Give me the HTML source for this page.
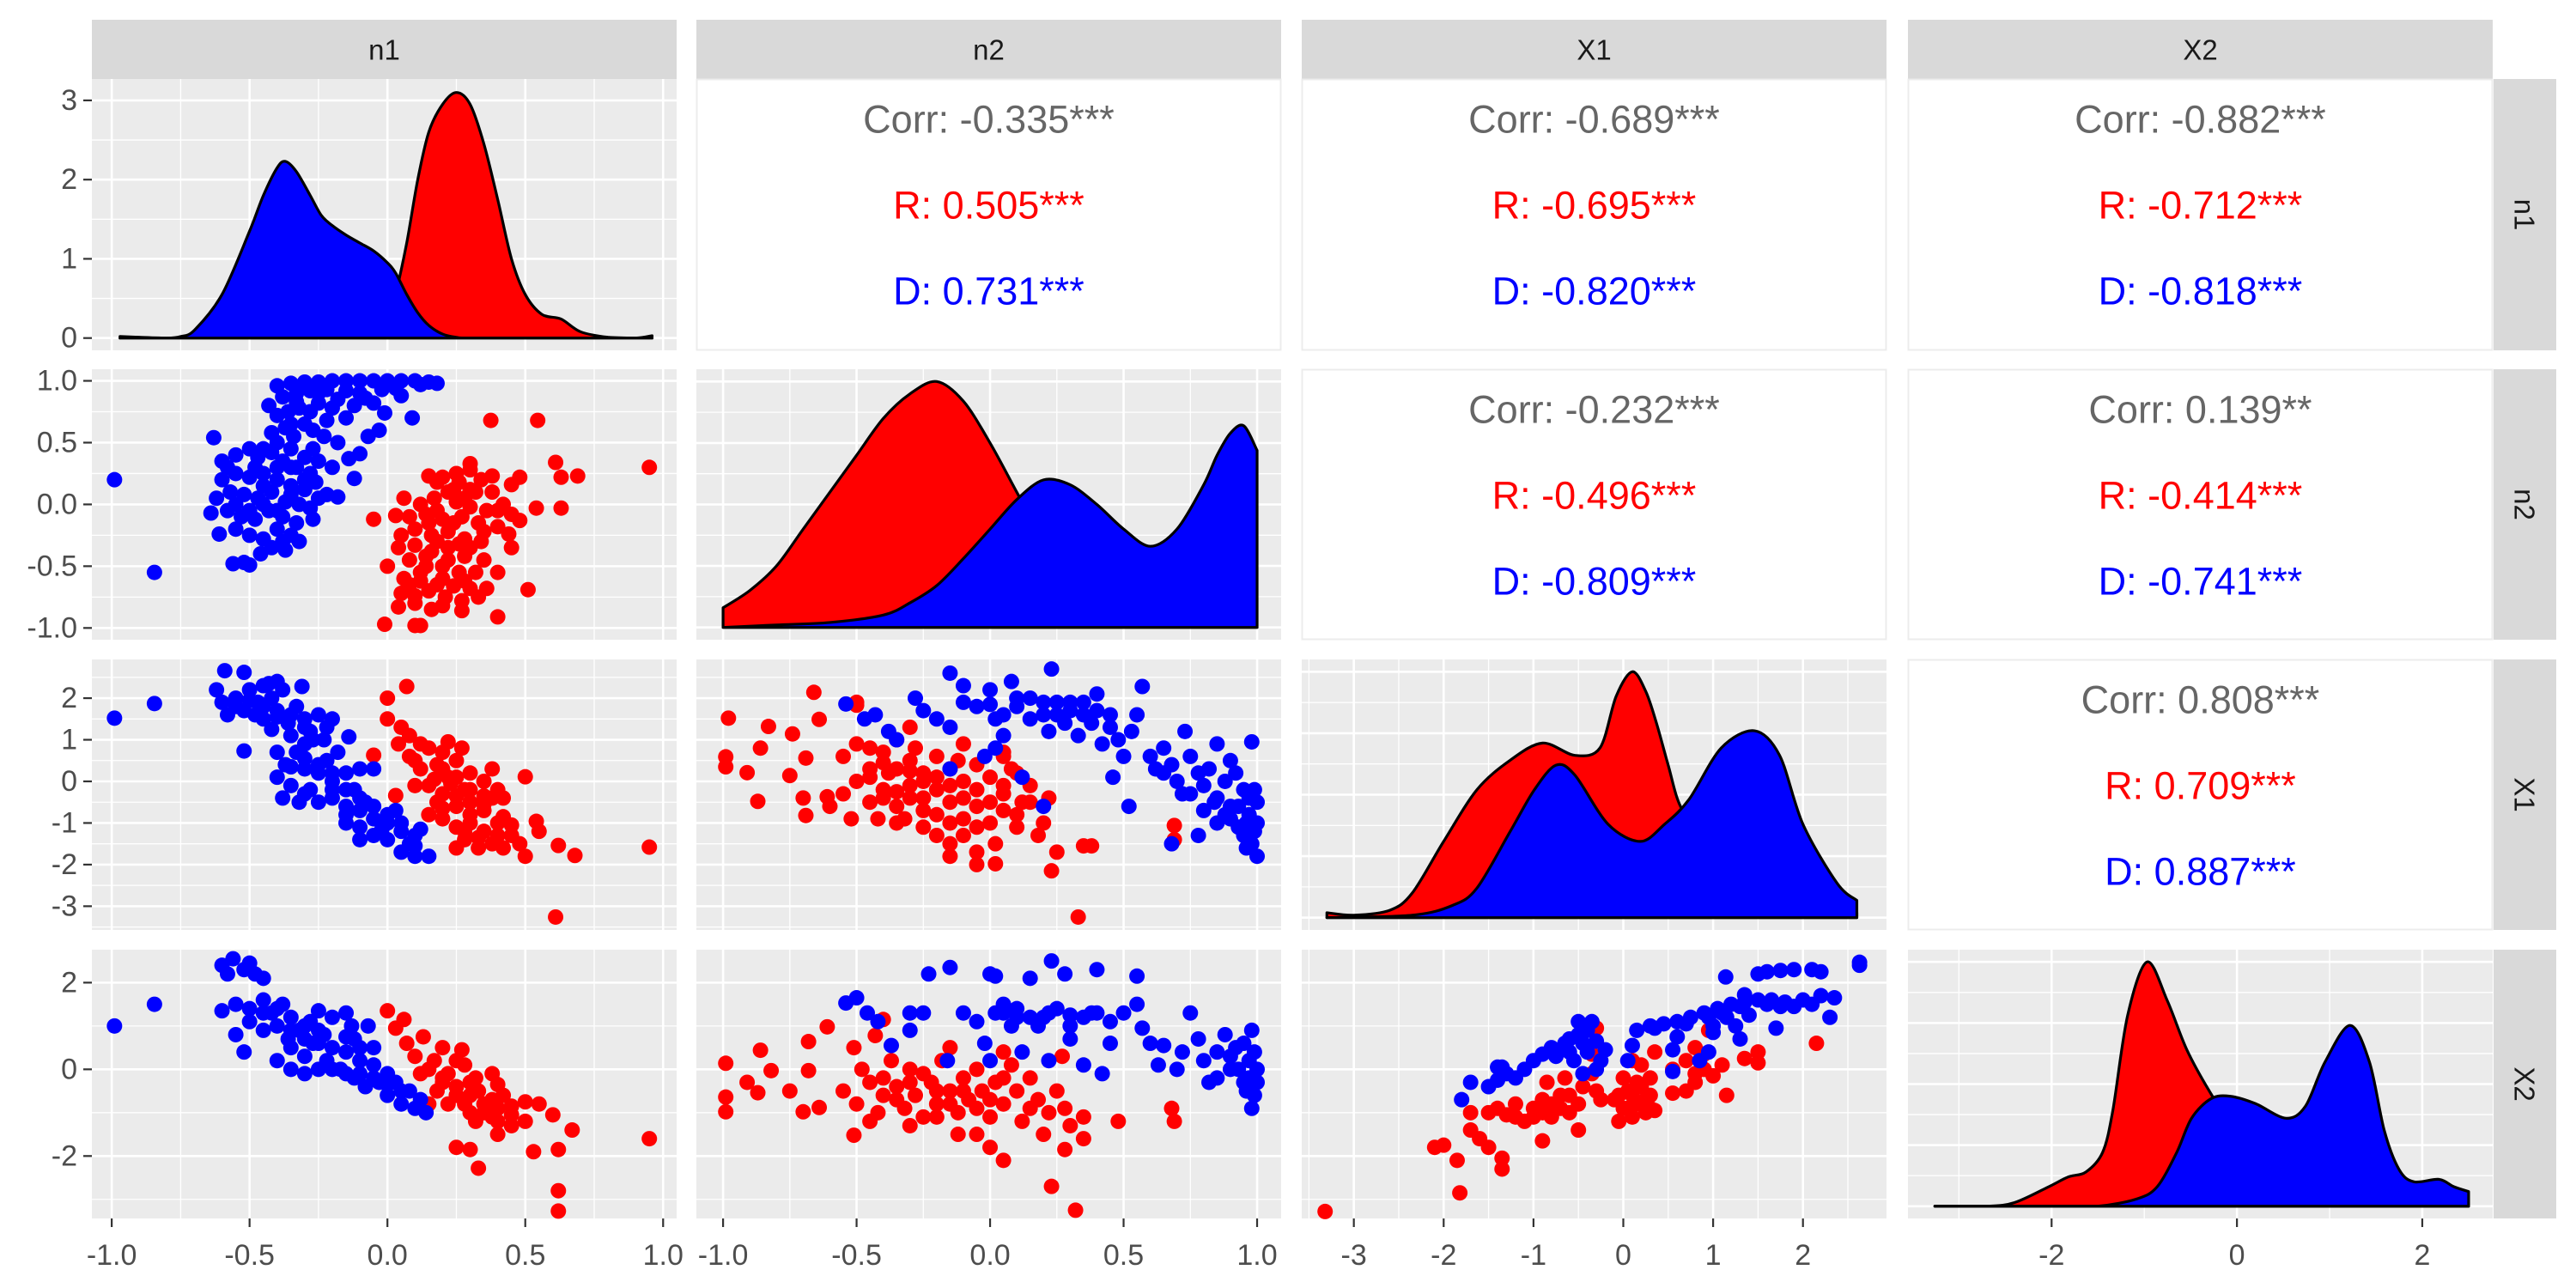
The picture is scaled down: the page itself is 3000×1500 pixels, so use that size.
<!DOCTYPE html>
<html><head><meta charset="utf-8">
<style>
html,body{margin:0;padding:0;background:#fff;}
svg{display:block;font-family:"Liberation Sans",Arial,sans-serif;}
</style></head>
<body>
<svg id="chart" width="3000" height="1500" viewBox="0 0 3000 1500" xmlns="http://www.w3.org/2000/svg"></svg>
<script>
// ---------- DATA ----------
const varNames = ["n1","n2","X1","X2"];
const colTickVals = [[-1,-0.5,0,0.5,1],[-1,-0.5,0,0.5,1],[-3,-2,-1,0,1,2],[-2,0,2]];
const colTickLabels = [["-1.0","-0.5","0.0","0.5","1.0"],["-1.0","-0.5","0.0","0.5","1.0"],["-3","-2","-1","0","1","2"],["-2","0","2"]];
const rowTickVals = [[0,1,2,3],[-1,-0.5,0,0.5,1],[-3,-2,-1,0,1,2],[-2,0,2]];
const rowTickLabels = [["0","1","2","3"],["-1.0","-0.5","0.0","0.5","1.0"],["-3","-2","-1","0","1","2"],["-2","0","2"]];

const corrLabels = {"0,1":["Corr: -0.335***","R: 0.505***","D: 0.731***"],
"0,2":["Corr: -0.689***","R: -0.695***","D: -0.820***"],
"0,3":["Corr: -0.882***","R: -0.712***","D: -0.818***"],
"1,2":["Corr: -0.232***","R: -0.496***","D: -0.809***"],
"1,3":["Corr: 0.139**","R: -0.414***","D: -0.741***"],
"2,3":["Corr: 0.808***","R: 0.709***","D: 0.887***"]};

// densities
const n1RedX = [-0.97,-0.5,-0.1,-0.05,0.0,0.03,0.07,0.11,0.15,0.2,0.25,0.3,0.35,0.4,0.45,0.5,0.56,0.63,0.7,0.8,0.9,0.96];
const n1RedY = [0,0,0,0,0.15,0.55,1.2,2.0,2.6,2.95,3.1,2.95,2.45,1.75,1.0,0.55,0.3,0.24,0.08,0.01,0.0,0.03];
const n1BlueX = [-0.97,-0.9,-0.8,-0.75,-0.7,-0.6,-0.5,-0.45,-0.4,-0.37,-0.33,-0.28,-0.24,-0.2,-0.15,-0.1,-0.05,0.0,0.03,0.07,0.11,0.15,0.2,0.25,0.3,0.6,0.96];
const n1BlueY = [0.02,0.01,0.0,0.02,0.1,0.55,1.35,1.8,2.15,2.23,2.1,1.8,1.55,1.42,1.3,1.2,1.1,0.95,0.82,0.55,0.32,0.16,0.05,0.01,0,0,0];
const n2RedX = [-1,-0.9,-0.8,-0.7,-0.6,-0.5,-0.4,-0.3,-0.2,-0.1,0,0.1,0.2,0.3,0.4,0.5,0.6,0.8,1.0];
const n2RedY = [0.08,0.15,0.25,0.4,0.55,0.7,0.85,0.95,1.0,0.92,0.75,0.55,0.35,0.19,0.09,0.03,0.01,0,0];
const n2BlueX = [-1,-0.8,-0.6,-0.4,-0.3,-0.2,-0.1,0,0.1,0.2,0.3,0.4,0.5,0.6,0.7,0.8,0.85,0.9,0.95,1.0];
const n2BlueY = [0.0,0.01,0.02,0.05,0.1,0.17,0.28,0.4,0.52,0.6,0.58,0.5,0.4,0.33,0.4,0.58,0.7,0.79,0.82,0.72];
const x1RedX = [-3.3,-3.0,-2.6,-2.35,-2.0,-1.63,-1.26,-0.9,-0.54,-0.26,-0.08,0.1,0.25,0.37,0.5,0.64,0.9,1.3,1.7,2.1,2.6];
const x1RedY = [0.02,0.01,0.03,0.1,0.31,0.52,0.64,0.71,0.66,0.69,0.9,1.0,0.92,0.79,0.62,0.45,0.33,0.22,0.12,0.05,0.02];
const x1BlueX = [-3.3,-2.35,-1.9,-1.63,-1.26,-0.99,-0.75,-0.54,-0.17,0.19,0.46,0.73,1.09,1.46,1.74,2.0,2.38,2.6];
const x1BlueY = [0.0,0.01,0.05,0.12,0.35,0.52,0.62,0.58,0.38,0.31,0.38,0.48,0.69,0.76,0.66,0.38,0.14,0.07];
const x2RedX = [-3.26,-2.7,-2.4,-2.03,-1.82,-1.63,-1.45,-1.34,-1.18,-0.97,-0.75,-0.54,-0.28,0,0.5,1,1.5,2.0,2.5];
const x2RedY = [0,0.0,0.015,0.08,0.12,0.14,0.22,0.39,0.78,1.0,0.84,0.64,0.46,0.3,0.15,0.08,0.04,0.01,0.0];
const x2BlueX = [-3.26,-2.0,-1.5,-1.08,-0.86,-0.65,-0.49,-0.28,-0.07,0.2,0.53,0.74,0.95,1.22,1.43,1.59,1.75,1.91,2.18,2.34,2.5];
const x2BlueY = [0,0,0.0,0.03,0.08,0.22,0.36,0.44,0.45,0.42,0.36,0.41,0.59,0.74,0.59,0.31,0.15,0.1,0.11,0.08,0.06];

// scatter points [x,y]
const p21BlueMain = [[-0.4,0.96],[-0.35,0.98],[-0.3,0.99],[-0.25,0.99],[-0.2,1.0],[-0.15,1.0],[-0.1,1.0],[-0.05,1.0],[0,1.0],[0.05,1.0],[0.1,1.0],[0.15,0.99],[0.18,0.98],[0.12,0.97],[-0.02,0.93],[0.03,0.94],[-0.22,0.93],[-0.28,0.92],[-0.33,0.9],[-0.38,0.87],
[-0.43,0.8],[-0.4,0.72],[-0.36,0.75],[-0.32,0.78],[-0.25,0.82],[-0.18,0.85],[-0.12,0.8],[-0.08,0.86],[-0.3,0.65],[-0.37,0.62],[-0.42,0.58],[-0.34,0.55],[-0.27,0.6],[-0.22,0.68],[-0.15,0.7],
[-0.99,0.2],[-0.845,-0.55],[-0.63,0.54],[0.09,0.7],[-0.12,0.21],[-0.56,-0.48],[-0.52,-0.47],[-0.5,-0.49],[-0.37,-0.37],[-0.61,-0.24],[-0.01,0.74],[-0.03,0.6],[-0.07,0.55],[-0.1,0.41],[-0.14,0.37],[-0.18,0.5],[-0.23,0.55],[-0.22,0.08],[-0.18,0.06],
[-0.6,0.35],[-0.55,0.4],[-0.5,0.45],[-0.47,0.38],[-0.42,0.42],[-0.38,0.35],[-0.33,0.3],[-0.28,0.25],[-0.25,0.35],[-0.6,0.2],[-0.55,0.25],[-0.5,0.22],[-0.45,0.25],[-0.4,0.2],[-0.35,0.15],[-0.3,0.12],[-0.26,0.18],[-0.62,0.05],[-0.57,0.1],[-0.52,0.08],[-0.47,0.05],[-0.42,0.1],[-0.37,0.02],[-0.32,0.0],[-0.28,-0.03],[-0.64,-0.07],[-0.58,-0.05],[-0.53,-0.1],[-0.48,-0.12],[-0.43,-0.05],[-0.38,-0.1],[-0.33,-0.15],[-0.27,-0.12],[-0.55,-0.2],[-0.5,-0.25],[-0.45,-0.28],[-0.4,-0.2],[-0.35,-0.25],[-0.42,-0.35],[-0.46,-0.4],[-0.38,-0.3],[-0.58,0.3],[-0.48,0.3]];
const p21BlueExtra = [[-0.45,0.0],[-0.4,-0.05],[-0.35,0.08],[-0.3,0.2],[-0.45,0.15],[-0.5,-0.05],[-0.55,0.0],[-0.35,0.3],[-0.3,0.38],[-0.4,0.3],[-0.25,0.05],[-0.32,-0.3],[-0.27,0.45],[-0.2,0.3],[-0.35,0.45],[-0.45,0.45],[-0.4,0.5],[-0.35,0.65],[-0.28,0.75],[-0.2,0.78],[-0.1,0.9],[-0.05,0.82],[0.05,0.88],[-0.15,0.92],[-0.33,0.83],[-0.25,0.9]];
const p21RedMain = [[0.2,0.22],[0.26,0.18],[0.3,0.12],[0.34,0.2],[0.38,0.1],[0.22,0.1],[0.17,0.05],[0.12,0.0],[0.25,0.02],[0.3,-0.02],[0.36,-0.05],[0.42,0.0],[0.45,-0.08],[0.08,-0.1],[0.14,-0.08],[0.2,-0.12],[0.27,-0.1],[0.33,-0.15],[0.4,-0.18],[0.05,-0.25],[0.1,-0.2],[0.16,-0.25],[0.22,-0.22],[0.28,-0.28],[0.34,-0.3],[0.04,-0.35],[0.1,-0.33],[0.16,-0.38],[0.22,-0.35],[0.28,-0.42],[0.35,-0.45],[0.08,-0.45],[0.14,-0.5],[0.2,-0.5],[0.26,-0.55],[0.32,-0.55],[0.06,-0.6],[0.12,-0.62],[0.18,-0.65],[0.24,-0.66],[0.3,-0.68],[0.36,-0.68],[0.05,-0.72],[0.1,-0.74],[0.15,-0.7],[0.21,-0.75],[0.27,-0.78],[0.33,-0.75],[0.25,0.25],[0.3,0.28],[0.18,0.18],
[0.375,0.68],[0.545,0.68],[0.95,0.3],[0.61,0.34],[0.63,0.22],[0.69,0.23],[0.63,-0.03],[0.3,0.33],[0.15,0.23],[-0.05,-0.12],[0.03,-0.09],[0.06,0.05],[-0.01,-0.97],[0.1,-0.98],[0.12,-0.98],[0.4,-0.91],[0.51,-0.69],[0.27,-0.86],[0.16,-0.85],[0.04,-0.83],[0.0,-0.5],[0.54,-0.03],[0.48,-0.13],[0.44,-0.24],[0.48,0.22],[0.45,0.16],[0.38,0.23],[0.45,-0.35],[0.4,-0.55]];
const p21RedExtra = [[0.18,-0.05],[0.24,-0.15],[0.3,-0.35],[0.22,-0.45],[0.15,-0.15],[0.28,0.05],[0.32,0.1],[0.18,-0.3],[0.26,-0.32],[0.12,-0.55],[0.2,-0.6],[0.28,-0.62],[0.1,-0.8],[0.2,-0.82],[0.24,0.12],[0.35,-0.22],[0.4,-0.05],[0.08,-0.65],[0.14,-0.42]];
const p31BlueMain = [[-0.62,2.2],[-0.6,1.9],[-0.58,1.6],[-0.55,2.0],[-0.52,1.7],[-0.5,2.2],[-0.47,1.9],[-0.45,1.5],[-0.42,2.0],[-0.4,1.7],[-0.38,2.2],[-0.36,1.4],[-0.33,1.8],[-0.3,1.5],[-0.28,1.2],[-0.25,1.6],[-0.23,1.0],[-0.22,1.3],[-0.2,1.5],[-0.3,0.9],[-0.35,1.1],[-0.4,0.7],[-0.37,0.4],[-0.4,0.1],[-0.35,-0.1],[-0.38,-0.4],[-0.32,-0.5],[-0.28,-0.2],[-0.25,0.2],[-0.22,0.5],[-0.2,0.0],[-0.25,-0.5],[-0.2,-0.4],[-0.15,-0.6],[-0.1,-0.7],[-0.15,-1.0],[-0.1,-1.1],[-0.05,-0.9],[0.0,-1.0],[0.03,-0.7],[-0.05,-1.3],[0.0,-1.4],[0.05,-1.2],[0.08,-1.5],[0.1,-1.8],[0.15,-1.8],[0.05,-1.7],[-0.08,-0.5],[-0.12,-0.2],[-0.15,0.2],[-0.1,0.3],[-0.05,0.3],[-0.18,0.7],[-0.1,-1.4],[-0.3,0.3],[-0.45,2.3],
[-0.99,1.52],[-0.845,1.87],[-0.59,2.66],[-0.52,2.62],[-0.31,2.28],[-0.52,0.73],[-0.14,1.07],[-0.43,2.35],[-0.4,2.4]];
const p31BlueExtra = [[-0.5,1.95],[-0.45,1.8],[-0.4,1.55],[-0.35,1.6],[-0.3,1.3],[-0.27,1.0],[-0.33,0.7],[-0.3,0.55],[-0.25,0.4],[-0.2,0.2],[-0.15,-0.2],[-0.1,-0.4],[-0.05,-0.6],[0.0,-0.8],[0.05,-1.0],[0.1,-1.3],[0.1,-1.55],[-0.02,-1.15],[-0.55,1.8],[-0.48,1.6],[-0.42,1.25],[-0.2,-0.2],[-0.3,-0.3],[-0.35,0.35],[-0.15,-0.8],[0.12,-1.15]];
const p31RedMain = [[0.0,2.0],[0.07,2.28],[0.0,1.5],[0.05,1.3],[0.04,0.9],[0.08,0.6],[-0.05,0.63],[0.03,-0.34],[0.12,0.9],[0.15,0.8],[0.2,0.7],[0.18,0.4],[0.12,0.3],[0.25,0.5],[0.27,0.8],[0.3,0.2],[0.22,0.1],[0.15,-0.1],[0.28,-0.2],[0.35,0.0],[0.4,-0.2],[0.42,-0.4],[0.2,-0.3],[0.25,-0.6],[0.3,-0.5],[0.35,-0.7],[0.15,-0.8],[0.2,-0.9],[0.25,-1.1],[0.3,-1.0],[0.35,-1.2],[0.4,-1.0],[0.45,-1.3],[0.28,-1.4],[0.33,-1.6],[0.38,-1.5],[0.42,-1.6],[0.48,-1.5],[0.5,-1.8],[0.5,0.11],[0.95,-1.58],[0.61,-3.26],[0.68,-1.78],[0.62,-1.54],[0.54,-0.96],[0.55,-1.2],[0.25,-1.6],[0.18,-0.5],[0.1,-0.1],[0.35,-0.35],[0.38,0.3],[0.22,0.95],[0.08,1.1]];
const p31RedExtra = [[0.2,0.3],[0.25,0.1],[0.3,-0.2],[0.25,-0.35],[0.3,-0.8],[0.35,-0.55],[0.28,-1.2],[0.33,-1.35],[0.4,-1.3],[0.2,-0.65],[0.17,0.05],[0.1,0.5],[0.42,-0.85],[0.45,-1.05],[0.38,-0.4],[0.23,-0.05]];
const p32RedMain = [[-0.98,1.52],[-0.99,0.59],[-0.99,0.35],[-0.91,0.21],[-0.87,-0.48],[-0.83,1.32],[-0.86,0.8],[-0.74,1.14],[-0.66,2.14],[-0.64,1.49],[-0.5,1.83],[-0.7,-0.4],[-0.69,-0.82],[-0.61,-0.37],[-0.75,0.14],[-0.69,0.56],
[-0.55,0.6],[-0.5,0.9],[-0.45,0.3],[-0.4,0.7],[-0.35,1.0],[-0.3,0.5],[-0.25,0.2],[-0.2,0.6],[-0.15,0.3],[-0.1,0.0],[-0.05,0.4],[0,0.1],[0.05,-0.1],[0.1,0.2],[0.15,-0.1],[-0.55,-0.3],[-0.5,0.0],[-0.45,-0.5],[-0.4,-0.2],[-0.35,-0.6],[-0.3,-0.1],[-0.25,-0.4],[-0.2,-0.8],[-0.15,-0.5],[-0.1,-0.9],[-0.05,-0.6],[0,-1.0],[0.05,-0.7],[0.1,-1.1],[0.15,-0.5],[-0.25,-1.1],[-0.2,-1.3],[-0.15,-1.5],[-0.1,-1.3],[-0.05,-1.7],[0.02,-1.5],[0.18,-1.3],[0.2,-1.0],[0.22,-0.4],[-0.45,0.8],[-0.38,0.2],[-0.6,-0.6],[-0.52,-0.9],[-0.42,-0.9],[-0.32,-0.9],[-0.35,-0.25],[-0.12,0.5],[0.08,0.3],[-0.28,0.8],[0.05,0.6],[-0.1,0.9],
[0.33,-3.26],[0.69,-1.06],[0.69,-1.4],[0.35,-1.55],[0.38,-1.55],[0.25,-1.7],[0.23,-2.15],[0.02,-1.98],[-0.15,-1.8],[-0.05,-2.0],[-0.5,1.9],[-0.3,1.3],[0.05,0.7]];
const p32RedExtra = [[-0.45,0.1],[-0.4,-0.4],[-0.35,0.3],[-0.3,-0.4],[-0.25,0.0],[-0.2,-0.2],[-0.15,-0.1],[-0.1,-0.4],[-0.05,-0.2],[0.0,-0.5],[0.05,-0.3],[0.1,-0.8],[-0.2,0.1],[-0.3,0.25],[-0.4,0.45],[-0.35,-1.0],[-0.25,-0.7],[-0.15,-1.0],[-0.05,-1.1],[0.12,-0.5]];
const p32BlueMain = [[-0.54,1.86],[-0.47,1.5],[-0.43,1.6],[-0.35,1.0],[-0.38,1.2],[-0.28,2.0],[-0.25,1.7],[-0.2,1.5],[-0.15,2.6],[-0.1,2.3],[-0.15,1.3],[-0.05,1.8],[0.0,2.2],[0.02,1.5],[0.08,2.4],[0.05,1.1],[0.1,1.8],[0.15,2.0],[0.2,1.6],[0.22,1.2],[0.25,1.9],[0.23,2.7],[0.28,1.4],[0.3,1.7],[0.33,1.1],[0.35,1.9],[0.38,1.4],[0.4,2.1],[0.42,0.9],[0.45,1.3],[0.48,1.0],[0.5,0.6],[0.46,0.1],[0.52,-0.6],[0.53,1.2],[0.57,2.28],[0.55,1.6],[0.6,0.6],[0.62,0.3],[0.65,0.8],[0.68,0.4],[0.73,1.2],[0.75,0.6],[0.78,0.2],[0.7,0.0],[0.72,-0.3],[0.8,-0.1],[0.82,0.3],[0.85,-0.4],[0.88,0.0],[0.9,-0.6],[0.92,0.2],[0.95,-0.2],[0.97,-0.8],[0.99,-1.2],[1.0,-0.5],[0.98,-1.5],[1.0,-1.8],[0.96,-1.0],[0.93,-1.1],[0.88,-0.8],[0.84,-0.5],[0.8,-0.7],[0.78,-1.3],[0.68,-1.5],[0.98,0.95],[0.85,0.9],[0.9,0.5],[0.02,0.8],[0.12,0.1],[-0.15,0.3],[-0.02,0.6],[0.2,-0.6]];
const p32BlueExtra = [[0.05,1.6],[0.15,1.5],[0.25,1.6],[0.35,1.6],[0.4,1.7],[0.3,1.9],[0.2,1.9],[0.1,2.0],[0.0,1.85],[-0.1,1.9],[0.45,1.6],[0.93,-0.6],[0.95,-1.3],[0.97,-0.4],[1.0,-1.0],[0.9,-0.9],[0.85,-1.0],[0.96,-1.6],[0.99,-0.2],[0.75,-0.3],[0.65,0.2]];
const p41BlueMain = [[-0.6,2.4],[-0.58,2.2],[-0.56,2.55],[-0.52,2.3],[-0.48,2.2],[-0.45,2.1],[-0.5,2.45],
[-0.6,1.35],[-0.55,1.5],[-0.5,1.4],[-0.5,1.1],[-0.45,1.6],[-0.42,1.3],[-0.4,1.0],[-0.38,1.5],[-0.36,0.7],[-0.35,1.2],[-0.32,0.9],[-0.3,0.3],[-0.28,1.1],[-0.27,0.6],[-0.25,1.35],[-0.23,0.8],[-0.22,0.2],[-0.2,0.5],[-0.2,1.2],[-0.17,0.0],[-0.15,0.4],[-0.12,-0.2],[-0.12,0.7],[-0.1,0.2],[-0.08,-0.4],[-0.05,0.1],[-0.05,0.5],[-0.03,-0.3],[0,-0.1],[0.0,-0.6],[0.03,-0.3],[0.05,-0.8],[0.08,-0.5],[0.12,-0.7],[0.14,-1.0],[-0.25,0.0],[-0.35,0.0],[-0.4,0.2],[-0.3,-0.1],
[-0.99,1.0],[-0.845,1.5],[-0.55,0.8],[-0.52,0.4],[-0.15,1.3],[-0.13,1.0],[-0.07,1.0],[-0.15,0.75]];
const p41BlueExtra = [[-0.35,0.5],[-0.3,0.7],[-0.25,0.6],[-0.2,0.0],[-0.15,-0.1],[-0.1,-0.1],[-0.05,-0.2],[0.0,-0.35],[0.05,-0.5],[-0.1,0.5],[-0.45,1.3],[-0.4,1.4],[-0.35,0.9],[-0.3,1.0],[-0.25,0.9],[-0.45,0.9],[0.1,-0.9]];
const p41RedMain = [[0.0,1.35],[0.06,1.15],[0.03,0.95],[0.07,0.6],[0.1,0.3],[0.13,0.75],[0.2,0.5],[0.27,0.45],[0.17,0.2],[0.12,-0.1],[0.22,-0.1],[0.28,0.1],[0.32,-0.2],[0.38,-0.1],[0.4,-0.35],[0.25,-0.4],[0.18,-0.5],[0.15,-0.8],[0.22,-0.8],[0.3,-0.6],[0.35,-0.8],[0.42,-0.6],[0.45,-0.85],[0.3,-1.0],[0.38,-1.1],[0.45,-1.3],[0.5,-1.2],[0.55,-0.8],[0.6,-1.05],[0.67,-1.4],[0.62,-1.85],[0.53,-1.9],[0.25,-1.8],[0.3,-1.85],[0.33,-2.28],[0.62,-2.8],[0.62,-3.27],[0.95,-1.6],[0.5,-0.75],[0.4,-1.5]];
const p41RedExtra = [[0.2,-0.2],[0.25,-0.6],[0.3,-0.3],[0.33,-0.5],[0.38,-0.7],[0.35,-1.0],[0.4,-0.9],[0.28,-0.8],[0.2,-0.3],[0.15,0.0],[0.25,0.2],[0.45,-1.05],[0.4,-1.2],[0.32,-1.2]];
const p42RedMain = [[-0.99,0.14],[-0.99,-0.64],[-0.99,-0.98],[-0.91,-0.3],[-0.87,-0.54],[-0.86,0.44],[-0.82,-0.03],[-0.75,-0.5],[-0.7,-0.98],[-0.68,0.64],[-0.68,-0.03],[-0.64,-0.88],[-0.61,0.98],[-0.51,0.5],[-0.51,-1.52],[-0.43,0.78],[-0.4,1.15],
[-0.55,-0.5],[-0.5,-0.8],[-0.48,0.0],[-0.45,-0.3],[-0.42,-1.0],[-0.4,-0.6],[-0.37,0.2],[-0.35,-0.4],[-0.32,-0.9],[-0.3,0.0],[-0.28,-0.6],[-0.25,-1.1],[-0.22,-0.3],[-0.2,-0.8],[-0.18,0.2],[-0.15,-0.5],[-0.12,-1.0],[-0.1,-0.2],[-0.08,-0.7],[-0.05,0.0],[-0.03,-0.5],[0,-1.1],[0.02,-0.3],[0.05,-0.8],[0.08,0.1],[0.1,-0.5],[0.12,-1.2],[0.15,-0.2],[0.18,-0.7],[0.22,-1.0],[0.25,-0.5],[0.28,-0.9],[0.2,-1.5],[0.3,-1.3],[0.35,-1.6],[0.28,-1.85],[0.05,-2.1],[0.23,-2.7],[0.32,-3.25],[-0.05,-1.5],[0.0,-1.8],[-0.12,-1.5],[0.27,0.3],[0.35,-1.1],[0.48,-1.2],[0.68,-0.9],[0.69,-1.2],[-0.15,0.5],[0.05,0.4],[-0.45,-1.2],[-0.3,-1.3]];
const p42RedExtra = [[-0.4,-0.2],[-0.3,-0.3],[-0.2,-0.5],[-0.1,-0.5],[0,-0.7],[-0.25,-0.1],[-0.15,-0.8],[-0.05,-0.9],[0.05,-0.2],[0.15,-0.9],[-0.35,-0.7],[-0.2,-1.1]];
const p42BlueMain = [[-0.54,1.53],[-0.5,1.65],[-0.46,1.3],[-0.42,1.1],[-0.3,1.3],[-0.25,1.3],[-0.3,0.9],[-0.23,2.2],[-0.15,2.35],[-0.16,0.2],[-0.37,0.55],[-0.1,1.3],[-0.05,1.1],[-0.02,0.6],[0.0,2.2],[0.02,2.15],[0.02,1.3],[0.05,1.5],[0.08,1.0],[0.1,1.4],[0.12,0.4],[0.15,1.2],[0.15,2.1],[0.18,1.0],[0.22,1.3],[0.22,0.2],[0.25,1.4],[0.23,2.5],[0.28,2.2],[0.3,1.0],[0.3,0.7],[0.35,0.1],[0.38,1.3],[0.4,2.3],[0.45,1.1],[0.5,1.3],[0.45,0.6],[0.42,-0.1],[0.55,2.15],[0.55,1.5],[0.57,0.95],[0.6,0.6],[0.63,0.1],[0.65,0.55],[0.7,0.0],[0.72,0.4],[0.75,1.3],[0.78,0.7],[0.8,0.2],[0.82,-0.3],[0.85,0.4],[0.88,0.8],[0.9,0.0],[0.92,0.5],[0.95,-0.3],[0.97,0.2],[0.98,0.9],[0.99,-0.6],[1.0,0.0],[0.98,-0.9],[0.95,0.6],[0.85,-0.2],[0.0,0.2]];
const p42BlueExtra = [[0.1,1.2],[0.2,1.2],[0.3,1.25],[0.4,1.3],[0.35,1.2],[0.05,1.3],[0.93,0.0],[0.96,-0.5],[0.99,0.4],[0.97,-0.2],[0.9,0.3],[1.0,-0.3]];
const p43BlueMain = [[1.14,2.13],[1.5,2.2],[1.6,2.25],[1.75,2.28],[1.9,2.3],[2.1,2.3],[2.2,2.25],[2.63,2.47],[2.63,2.4],[1.35,1.72],
[0.3,1.0],[0.45,1.05],[0.6,1.1],[0.75,1.2],[0.9,1.3],[1.05,1.4],[1.2,1.5],[1.35,1.55],[1.5,1.6],[1.65,1.6],[1.8,1.55],[1.9,1.45],[1.7,0.95],[2.1,1.5],[2.2,1.7],[2.35,1.65],[2.3,1.2],[1.0,1.0],[1.15,1.2],[1.25,1.0],[1.4,1.25],[0.6,0.75],[0.55,0.45],[0.15,0.9],[0.1,0.55],[0.05,0.2],[0.55,-0.05],[0.85,0.2],[0.95,0.4],[1.0,0.85],[1.3,0.7],
[-1.8,-0.7],[-1.7,-0.3],[-1.5,-0.4],[-1.4,-0.25],[-1.3,-0.1],[-1.1,0.0],[-1.35,0.05],[-1.0,0.2],[-0.9,0.35],[-0.8,0.5],[-0.7,0.45],[-0.6,0.7],[-0.5,0.8],[-0.5,1.1],[-0.35,1.1],[-0.3,0.65],[-0.25,0.2],[-0.3,0.0],[-0.45,-0.1],[-0.55,0.2],[-0.4,0.4],[-1.4,0.05],[-0.2,0.45]];
const p43BlueExtra = [[0.35,0.95],[0.7,1.05],[1.1,1.3],[1.3,1.45],[1.6,1.5],[1.75,1.45],[-0.75,0.3],[-0.65,0.6],[-0.45,0.6],[-0.4,0.9],[-0.6,0.4],[-1.2,-0.2],[0.95,1.2],[2.0,1.6]];
const p43RedMain = [[-3.32,-3.28],[-1.82,-2.85],[-2.1,-1.8],[-2.0,-1.75],[-1.85,-2.1],[-1.7,-1.4],[-1.6,-1.6],[-1.5,-1.8],[-1.35,-2.05],[-1.35,-2.3],[-1.5,-1.0],[-1.7,-1.0],[-1.3,-1.05],[-1.2,-0.8],[-1.1,-1.2],[-1.0,-0.9],[-0.9,-0.7],[-0.8,-1.1],[-0.7,-0.9],[-0.6,-0.6],[-0.5,-0.8],[-0.45,-0.4],[-0.85,-0.3],[-0.65,-0.2],[-0.5,-1.4],[-0.9,-1.65],[-0.35,-0.1],[-0.35,0.35],[-0.3,0.95],[-0.25,-0.7],[-0.3,-0.5],
[-0.1,-0.7],[-0.05,-1.2],[0,-0.9],[0.05,-0.5],[0.1,-1.1],[0.15,-0.8],[0.2,-0.4],[0.25,-1.0],[0.35,-0.95],[0.3,-0.6],[0.0,-0.2],[0.1,0.2],[0.2,0.1],[0.3,-0.2],[0.35,0.4],
[0.55,-0.55],[0.7,-0.5],[0.8,-0.3],[0.7,0.2],[0.8,0.5],[0.9,0.35],[0.95,0.9],[1.1,0.1],[1.15,-0.6],[1.35,0.25],[1.5,0.15],[1.5,0.4],[2.15,0.6],[1.0,-0.15],[0.55,0.0]];
const p43RedExtra = [[-1.0,-1.1],[-0.9,-1.0],[-0.8,-0.8],[-0.7,-0.6],[-0.6,-1.0],[-1.2,-1.1],[-1.4,-0.9],[0.1,-0.6],[0.15,-0.3],[0.25,-0.7],[0.05,-0.9],[-0.05,-0.6],[0.3,-0.9],[0.8,-0.1],[0.9,0.0]];

const p21Blue = p21BlueMain.concat(p21BlueExtra), p21Red = p21RedMain.concat(p21RedExtra);
const p31Blue = p31BlueMain.concat(p31BlueExtra), p31Red = p31RedMain.concat(p31RedExtra);
const p32Blue = p32BlueMain.concat(p32BlueExtra), p32Red = p32RedMain.concat(p32RedExtra);
const p41Blue = p41BlueMain.concat(p41BlueExtra), p41Red = p41RedMain.concat(p41RedExtra);
const p42Blue = p42BlueMain.concat(p42BlueExtra), p42Red = p42RedMain.concat(p42RedExtra);
const p43Blue = p43BlueMain.concat(p43BlueExtra), p43Red = p43RedMain.concat(p43RedExtra);

// ---------- LAYOUT ----------
const colX = [107,811,1516,2222], W = 681;
const rowY = [92,430,768,1106], rowH = [316,315,315,313];
const colDom = [[-1.072,1.049],[-1.1,1.09],[-3.58,2.93],[-3.55,2.76]];
const rowDom = [[-0.155,3.27],[-1.095,1.094],[-3.57,2.93],[-3.44,2.76]];
function sx(c,v){const d=colDom[c];return colX[c]+(v-d[0])/(d[1]-d[0])*W;}
function sy(r,v){const d=rowDom[r];return rowY[r]+rowH[r]-(v-d[0])/(d[1]-d[0])*rowH[r];}
function sd(r,v){ if(r===0) return sy(0,v); return rowY[r]+rowH[r]-(v+0.05)/1.1*rowH[r]; }

const NS="http://www.w3.org/2000/svg";
const svg=document.getElementById('chart');
function mk(tag,attrs,parent){const e=document.createElementNS(NS,tag);for(const k in attrs)e.setAttribute(k,attrs[k]);(parent||svg).appendChild(e);return e;}

// strips
for(let c=0;c<4;c++){
  const g=mk('g',{});
  
  
  mk('rect',{x:colX[c],y:23,width:W,height:69,fill:'#d9d9d9'},g);
  const t=mk('text',{x:colX[c]+W/2,y:58,'text-anchor':'middle','dominant-baseline':'central','font-size':33,fill:'#1a1a1a'},g);
  t.textContent=varNames[c];
}
for(let r=0;r<4;r++){
  const g=mk('g',{});
  
  
  mk('rect',{x:2904,y:rowY[r],width:73,height:rowH[r],fill:'#d9d9d9'},g);
  const cx=2940, cy=rowY[r]+rowH[r]/2;
  const t=mk('text',{x:cx,y:cy,'text-anchor':'middle','dominant-baseline':'central','font-size':33,fill:'#1a1a1a',transform:`rotate(90 ${cx} ${cy})`},g);
  t.textContent=varNames[r];
}

function minorOf(vals){const m=[];for(let i=0;i<vals.length-1;i++)m.push((vals[i]+vals[i+1])/2);
  if(vals.length>1){const s=vals[1]-vals[0];m.push(vals[0]-s/2);m.push(vals[vals.length-1]+s/2);}return m;}

function gridPanel(r,c,g){
  mk('rect',{x:colX[c],y:rowY[r],width:W,height:rowH[r],fill:'#ebebeb'},g);
  const x0=colX[c],x1=colX[c]+W,y0=rowY[r],y1=rowY[r]+rowH[r];
  minorOf(colTickVals[c]).forEach(v=>{const x=sx(c,v);if(x>x0&&x<x1)mk('line',{x1:x,x2:x,y1:y0,y2:y1,stroke:'#fff','stroke-width':1.3},g);});
  colTickVals[c].forEach(v=>{const x=sx(c,v);mk('line',{x1:x,x2:x,y1:y0,y2:y1,stroke:'#fff','stroke-width':2.6},g);});
  let hv, hy;
  if(r===c && r>0){hv=[0,0.25,0.5,0.75,1.0];hy=v=>sd(r,v);}
  else {hv=rowTickVals[r];hy=v=>sy(r,v);}
  minorOf(hv).forEach(v=>{const y=hy(v);if(y>y0&&y<y1)mk('line',{x1:x0,x2:x1,y1:y,y2:y,stroke:'#fff','stroke-width':1.3},g);});
  hv.forEach(v=>{const y=hy(v);if(y>y0&&y<y1)mk('line',{x1:x0,x2:x1,y1:y,y2:y,stroke:'#fff','stroke-width':2.6},g);});
}

let base_=0;
function smoothPath(pts){
  let d=`M${pts[0][0]},${pts[0][1]}`;
  for(let i=0;i<pts.length-1;i++){
    const p0=pts[Math.max(0,i-1)],p1=pts[i],p2=pts[i+1],p3=pts[Math.min(pts.length-1,i+2)];
    const t=0.16;
    const c1=[p1[0]+(p2[0]-p0[0])*t,p1[1]+(p2[1]-p0[1])*t];
    const c2=[p2[0]-(p3[0]-p1[0])*t,p2[1]-(p3[1]-p1[1])*t];
    d+=` C${c1[0]},${Math.min(c1[1],base_)} ${c2[0]},${Math.min(c2[1],base_)} ${p2[0]},${p2[1]}`;
  }
  return d;
}
function density(r,xs,ys,color,name,g){
  base_=sd(r,0);
  const pts=xs.map((x,i)=>[sx(r,x),sd(r,ys[i])]);
  let d=smoothPath(pts);
  d+=` L${pts[pts.length-1][0]},${base_} L${pts[0][0]},${base_} Z`;
  const p=mk('path',{d:d,fill:color,stroke:'#000','stroke-width':3.2,'stroke-linejoin':'round'},g);
  
  
}
function scatter(r,c,pts,color,name,g){
  const gg=mk('g',{},g);
  
  
  pts.forEach(p=>{
    const e=mk('circle',{cx:sx(c,p[0]),cy:sy(r,p[1]),r:9,fill:color},gg);
    
    
  });
}

const scatterData={"1,0":[p21Red,p21Blue],"2,0":[p31Red,p31Blue],"2,1":[p32Red,p32Blue],"3,0":[p41Red,p41Blue],"3,1":[p42Red,p42Blue],"3,2":[p43Red,p43Blue]};
const densData=[[n1RedX,n1RedY,n1BlueX,n1BlueY],[n2RedX,n2RedY,n2BlueX,n2BlueY],[x1RedX,x1RedY,x1BlueX,x1BlueY],[x2RedX,x2RedY,x2BlueX,x2BlueY]];

for(let r=0;r<4;r++)for(let c=0;c<4;c++){
  const g=mk('g',{});
  
  
  if(c>r){
    mk('rect',{x:colX[c]+0.5,y:rowY[r]+0.5,width:W-1,height:rowH[r]-1,fill:'#fff',stroke:'#ececec','stroke-width':2},g);
    const L=corrLabels[r+','+c];const cols=['#666666','#ff0000','#0000ff'];const off=[47,147,247];
    L.forEach((s,i)=>{const t=mk('text',{x:colX[c]+W/2,y:rowY[r]+off[i],'text-anchor':'middle','dominant-baseline':'central','font-size':45,fill:cols[i]},g);
      t.textContent=s;
      
      });
  } else if(r===c){
    gridPanel(r,c,g);
    const dd=densData[r];
    density(r,dd[0],dd[1],'#ff0000','density-red',g);
    density(r,dd[2],dd[3],'#0000ff','density-blue',g);
  } else {
    gridPanel(r,c,g);
    const sdd=scatterData[r+','+c];
    scatter(r,c,sdd[0],'#ff0000','points-red',g);
    scatter(r,c,sdd[1],'#0000ff','points-blue',g);
  }
}

for(let r=0;r<4;r++){
  const g=mk('g',{});
  
  
  rowTickVals[r].forEach((v,i)=>{const y=sy(r,v);
    mk('line',{x1:97,x2:107,y1:y,y2:y,stroke:'#333','stroke-width':2.2},g);
    const t=mk('text',{x:90,y:y,'text-anchor':'end','dominant-baseline':'central','font-size':34,fill:'#4d4d4d'},g);
    t.textContent=rowTickLabels[r][i];});
}
for(let c=0;c<4;c++){
  const g=mk('g',{});
  
  
  const yb=rowY[3]+rowH[3];
  colTickVals[c].forEach((v,i)=>{const x=sx(c,v);
    mk('line',{x1:x,x2:x,y1:yb,y2:yb+10,stroke:'#333','stroke-width':2.2},g);
    const t=mk('text',{x:x,y:yb+43,'text-anchor':'middle','dominant-baseline':'central','font-size':34,fill:'#4d4d4d'},g);
    t.textContent=colTickLabels[c][i];});
}
</script>
</body></html>
